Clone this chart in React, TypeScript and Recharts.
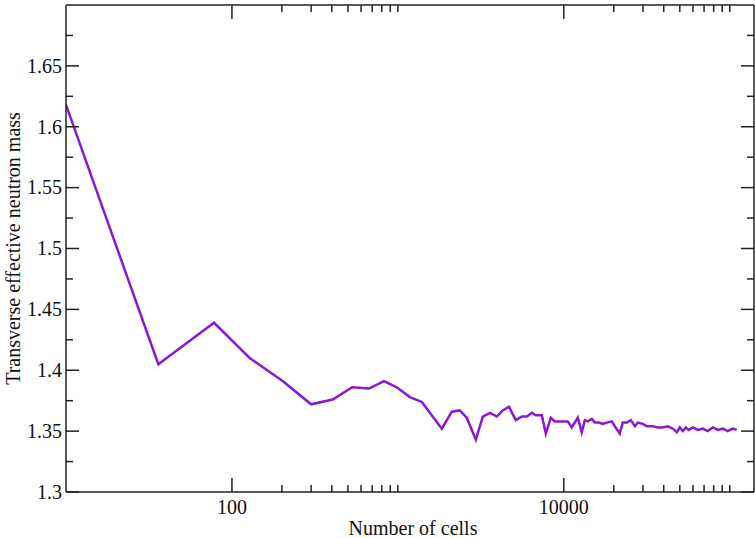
import { LineChart, Line, XAxis, YAxis, Label } from "recharts";

// number of cells (log axis) and transverse effective neutron mass
const cells = [
  10, 36, 78, 128, 203, 300, 405, 530, 670, 825, 985, 1180, 1395, 1840, 2115,
  2360, 2600, 2950, 3250, 3590, 3950, 4290, 4670, 5140, 5590, 5990, 6420, 6780,
  7370, 7790, 8350, 8830, 10570, 11170, 12140, 12830, 13390, 13960, 14750,
  15380, 16250, 17180, 18160, 19450, 20280, 21730, 22650, 23990, 25350, 26790,
  27920, 29920, 31620, 34360, 36810, 39450, 42360, 45390, 47970, 50000, 52120,
  54330, 56640, 59840, 64120, 68710, 73620, 79070, 84730, 90780, 97270, 104200,
  110200,
];
const mass = [
  1.618, 1.405, 1.439, 1.41, 1.391, 1.372, 1.376, 1.386, 1.385, 1.391, 1.386,
  1.378, 1.374, 1.352, 1.366, 1.367, 1.361, 1.343, 1.362, 1.365, 1.362, 1.367,
  1.37, 1.359, 1.362, 1.362, 1.365, 1.363, 1.363, 1.348, 1.361, 1.358, 1.358,
  1.353, 1.361, 1.349, 1.359, 1.358, 1.36, 1.357, 1.357, 1.356, 1.357, 1.358,
  1.354, 1.348, 1.357, 1.357, 1.359, 1.354, 1.357, 1.356, 1.354, 1.354, 1.353,
  1.353, 1.354, 1.352, 1.349, 1.353, 1.35, 1.353, 1.351, 1.353, 1.351, 1.352,
  1.35, 1.353, 1.351, 1.352, 1.35, 1.352, 1.351,
];

const xMajor = [100, 10000];
const xMinor = [
  200, 300, 400, 500, 600, 700, 800, 900, 1000,
  20000, 30000, 40000, 50000, 60000, 70000, 80000, 90000, 100000,
];
const yMajor = [1.3, 1.35, 1.4, 1.45, 1.5, 1.55, 1.6, 1.65];
const yMinor = [1.325, 1.375, 1.425, 1.475, 1.525, 1.575, 1.625, 1.675];

const data = cells.map((c, i) => ({ cells: c, mass: mass[i] }));
const xTicks = [...xMajor, ...xMinor];
const yTicks = [...yMajor, ...yMinor];

const ink = "#222";
const lineColor = "#8a17d4";
const serif = "'Liberation Serif', 'Times New Roman', serif";

const isMajor = (list: number[], v: number) =>
  list.some((m) => Math.abs(m - v) < 1e-9);

function BottomTick({ x, y, payload }: any) {
  const major = isMajor(xMajor, payload.value);
  return (
    <g>
      <line x1={x} y1={y} x2={x} y2={y - (major ? 14 : 7)} stroke={ink} strokeWidth={1.5} />
      {major && (
        <text x={x} y={y + 22} textAnchor="middle" fontFamily={serif} fontSize={20} fill="#111">
          {payload.value}
        </text>
      )}
    </g>
  );
}

function TopTick({ x, y, payload }: any) {
  const major = isMajor(xMajor, payload.value);
  return <line x1={x} y1={y} x2={x} y2={y + (major ? 14 : 7)} stroke={ink} strokeWidth={1.5} />;
}

function LeftTick({ x, y, payload }: any) {
  const major = isMajor(yMajor, payload.value);
  return (
    <g>
      <line x1={x} y1={y} x2={x + (major ? 13 : 7)} y2={y} stroke={ink} strokeWidth={1.5} />
      {major && (
        <text x={x - 4} y={y} dy="0.34em" textAnchor="end" fontFamily={serif} fontSize={20} fill="#111">
          {String(payload.value)}
        </text>
      )}
    </g>
  );
}

function RightTick({ x, y, payload }: any) {
  const major = isMajor(yMajor, payload.value);
  return <line x1={x} y1={y} x2={x - (major ? 13 : 7)} y2={y} stroke={ink} strokeWidth={1.5} />;
}

export default function App() {
  return (
    <div style={{ position: "absolute", left: 0, top: 0, background: "#fff" }}>
      <LineChart width={755} height={538} data={data} margin={{ top: 4, right: 0, left: 0, bottom: 0 }}>
        <XAxis
          dataKey="cells"
          type="number"
          scale="log"
          domain={[10, 140000]}
          allowDataOverflow
          ticks={xTicks}
          interval={0}
          height={46}
          tickSize={0}
          tickMargin={0}
          tickLine={false}
          tick={<BottomTick />}
          axisLine={{ stroke: ink, strokeWidth: 1.5 }}
        >
          <Label
            content={({ viewBox }: any) => (
              <text
                x={viewBox.x + viewBox.width / 2 + 3}
                y={viewBox.y + 43}
                textAnchor="middle"
                fontFamily={serif}
                fontSize={20}
                fill="#111"
              >
                Number of cells
              </text>
            )}
          />
        </XAxis>
        <XAxis
          xAxisId="top"
          dataKey="cells"
          orientation="top"
          type="number"
          scale="log"
          domain={[10, 140000]}
          allowDataOverflow
          ticks={xTicks}
          interval={0}
          height={1}
          tickSize={0}
          tickMargin={0}
          tickLine={false}
          tick={<TopTick />}
          axisLine={{ stroke: ink, strokeWidth: 1.5 }}
        />
        <YAxis
          type="number"
          domain={[1.3, 1.7]}
          allowDataOverflow
          ticks={yTicks}
          interval={0}
          width={66}
          tickSize={0}
          tickMargin={0}
          tickLine={false}
          tick={<LeftTick />}
          axisLine={{ stroke: ink, strokeWidth: 1.5 }}
        >
          <Label
            content={({ viewBox }: any) => {
              const cx = 13;
              const cy = viewBox.y + viewBox.height / 2;
              return (
                <text
                  x={cx}
                  y={cy}
                  transform={`rotate(-90 ${cx} ${cy})`}
                  textAnchor="middle"
                  dominantBaseline="central"
                  fontFamily={serif}
                  fontSize={20}
                  fill="#111"
                >
                  Transverse effective neutron mass
                </text>
              );
            }}
          />
        </YAxis>
        <YAxis
          yAxisId="right"
          orientation="right"
          type="number"
          domain={[1.3, 1.7]}
          allowDataOverflow
          ticks={yTicks}
          interval={0}
          width={1}
          tickSize={0}
          tickMargin={0}
          tickLine={false}
          tick={<RightTick />}
          axisLine={{ stroke: ink, strokeWidth: 1.5 }}
        />
        <Line
          type="linear"
          dataKey="mass"
          stroke={lineColor}
          strokeWidth={2.5}
          dot={false}
          isAnimationActive={false}
        />
      </LineChart>
    </div>
  );
}
